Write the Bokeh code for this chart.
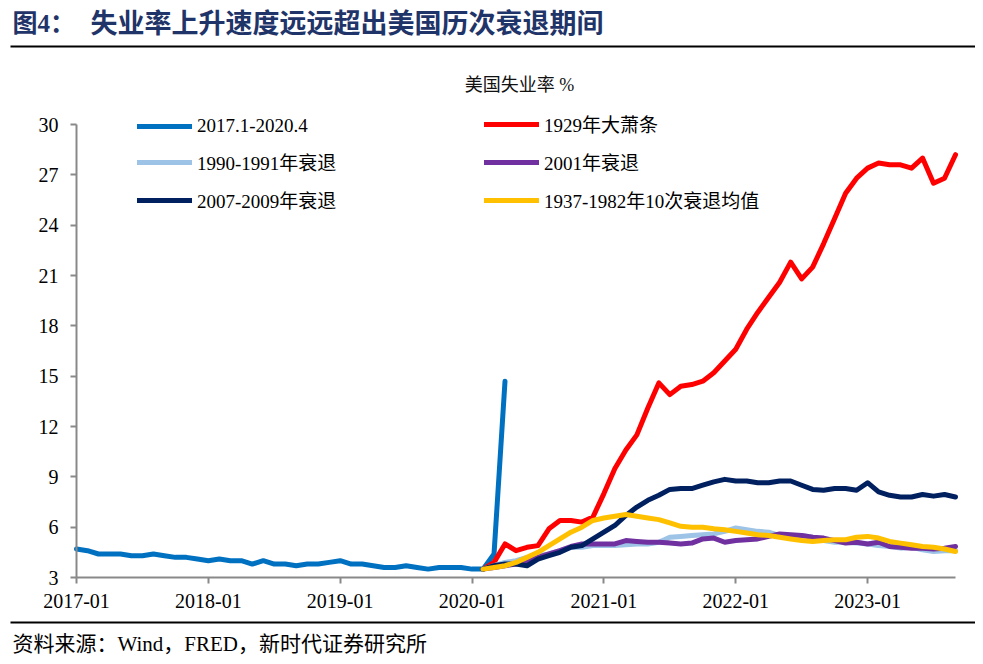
import pandas as pd
from bokeh.plotting import figure
from bokeh.models import (Range1d, FixedTicker, Legend, LegendItem, Label, BoxAnnotation,
                          LinearAxis)
from bokeh.embed import file_html
from bokeh.resources import INLINE

# ---------------- data ----------------
months = pd.period_range("2017-01", "2023-09", freq="M").strftime("%Y-%m").tolist()

start_2017 = "2017-01"
start_recession = "2020-02"

us_2017_2020 = [4.7, 4.6, 4.4, 4.4, 4.4, 4.3, 4.3, 4.4, 4.3, 4.2, 4.2, 4.1,
                4.0, 4.1, 4.0, 4.0, 3.8, 4.0, 3.8, 3.8, 3.7, 3.8, 3.8, 3.9,
                4.0, 3.8, 3.8, 3.7, 3.6, 3.6, 3.7, 3.6, 3.5, 3.6, 3.6, 3.6,
                3.5, 3.5, 4.4, 14.7]

depression_1929 = [3.5, 3.9, 5.0, 4.6, 4.8, 4.9, 5.9, 6.4, 6.4, 6.3,
                   6.6, 8.0, 9.5, 10.6, 11.5, 13.1, 14.6, 13.9, 14.4, 14.5,
                   14.7, 15.2, 15.9, 16.6, 17.8, 18.8, 19.7, 20.6, 21.8, 20.8,
                   21.5, 22.9, 24.4, 25.9, 26.8, 27.4, 27.7, 27.6, 27.6, 27.4,
                   28.0, 26.5, 26.8, 28.2]

rec_1990 = [3.5, 3.7, 3.9, 4.0, 4.2, 4.3, 4.4, 4.6, 4.8, 4.8,
            4.9, 4.9, 4.9, 4.95, 5.0, 5.0, 5.1, 5.4, 5.45, 5.5,
            5.55, 5.6, 5.75, 5.95, 5.85, 5.75, 5.7, 5.5, 5.5, 5.5,
            5.4, 5.2, 5.1, 5.1, 5.05, 5.0, 4.9, 4.85, 4.75, 4.8,
            4.65, 4.55, 4.6, 4.6]

rec_2001 = [3.5, 3.6, 3.7, 3.8, 4.0, 4.2, 4.4, 4.6, 4.85, 5.0,
            5.0, 5.0, 5.0, 5.2, 5.15, 5.1, 5.1, 5.05, 5.0, 5.05,
            5.3, 5.35, 5.1, 5.2, 5.25, 5.3, 5.45, 5.6, 5.55, 5.5,
            5.4, 5.35, 5.2, 5.05, 5.1, 5.0, 5.1, 4.85, 4.8, 4.75,
            4.75, 4.7, 4.75, 4.85]

rec_2007 = [3.5, 3.7, 3.8, 3.8, 3.7, 4.1, 4.3, 4.5, 4.8, 4.9,
            5.3, 5.7, 6.1, 6.7, 7.2, 7.6, 7.9, 8.25, 8.3, 8.3,
            8.5, 8.7, 8.85, 8.75, 8.75, 8.65, 8.65, 8.75, 8.75, 8.5,
            8.25, 8.2, 8.3, 8.3, 8.2, 8.65, 8.1, 7.9, 7.8, 7.8,
            7.95, 7.85, 7.95, 7.8]

avg_1937_1982 = [3.5, 3.6, 3.7, 3.9, 4.2, 4.5, 4.9, 5.3, 5.7, 6.0,
                 6.4, 6.55, 6.65, 6.75, 6.65, 6.55, 6.45, 6.25, 6.05, 6.0,
                 6.0, 5.9, 5.85, 5.75, 5.65, 5.55, 5.5, 5.4, 5.3, 5.2,
                 5.15, 5.2, 5.25, 5.25, 5.4, 5.45, 5.35, 5.15, 5.05, 4.95,
                 4.85, 4.8, 4.7, 4.55]

y_ticks = [3, 6, 9, 12, 15, 18, 21, 24, 27, 30]

series = [
    ("2017.1-2020.4", us_2017_2020, start_2017, "#0070C0"),
    ("1929年大萧条", depression_1929, start_recession, "#FF0000"),
    ("1990-1991年衰退", rec_1990, start_recession, "#9DC3E6"),
    ("2001年衰退", rec_2001, start_recession, "#7030A0"),
    ("2007-2009年衰退", rec_2007, start_recession, "#002060"),
    ("1937-1982年10次衰退均值", avg_1937_1982, start_recession, "#FFC000"),
]

title_text = "失业率上升速度远远超出美国历次衰退期间"
fig_no = "图4："
subtitle = "美国失业率 %"
source = "资料来源：Wind，FRED，新时代证券研究所"

# ---------------- layout / styling ----------------
FONT = "'Liberation Serif', 'Noto Sans CJK SC'"
TITLE_COLOR = "#1F3468"
AXIS_COLOR = "#898989"
W, H = 975, 656
# pixel box of the chart area on the canvas
AX_L, AX_R, AX_T, AX_B = 76, 955, 124, 577

n_last = len(months) - 1
y_lo, y_hi = y_ticks[0], y_ticks[-1]
kx = (AX_R - AX_L) / n_last
ky = (AX_B - AX_T) / (y_hi - y_lo)
x_range = Range1d(-AX_L / kx, n_last + (W - AX_R) / kx)
y_range = Range1d(y_lo - (H - AX_B) / ky, y_hi + AX_T / ky)

p = figure(width=W, height=H, x_range=x_range, y_range=y_range,
           x_axis_type=None, y_axis_type=None,
           toolbar_location=None, output_backend="svg",
           min_border=0, outline_line_color=None)

renderers = {}
for name, vals, start, color in series:
    i0 = months.index(start)
    xs = list(range(i0, i0 + len(vals)))
    renderers[name] = p.line(xs, vals, line_color=color, line_width=5,
                             line_join="round", line_cap="round")

tick_idx = [i for i, m in enumerate(months) if m.endswith("-01")]
xaxis = LinearAxis(fixed_location=y_lo, bounds=(0, n_last),
                   ticker=FixedTicker(ticks=tick_idx),
                   major_label_overrides={i: months[i] for i in tick_idx})
yaxis = LinearAxis(fixed_location=0, bounds=(y_lo, y_hi), ticker=FixedTicker(ticks=y_ticks))
for ax in (xaxis, yaxis):
    ax.axis_line_color = AXIS_COLOR
    ax.axis_line_width = 2
    ax.major_tick_line_color = AXIS_COLOR
    ax.major_tick_line_width = 2
    ax.major_tick_in = 0
    ax.major_tick_out = 6
    ax.minor_tick_line_color = None
    ax.major_label_text_font = FONT
    ax.major_label_text_font_size = "20px"
    ax.major_label_text_color = "black"
xaxis.major_label_standoff = 10
yaxis.major_label_standoff = 12
p.add_layout(xaxis, "below")
p.add_layout(yaxis, "left")

# helpers: canvas pixel (from top-left) -> screen units of the frame (from bottom-left)
def fx(px):
    return px

def fy(py):
    return H - py

# legends (two columns)
LEG_SPACING, LEG_ROW = 11, 27
leg_h = 3 * LEG_ROW + 2 * LEG_SPACING
leg_top = 110

def make_legend(names, x):
    return Legend(items=[LegendItem(label=n, renderers=[renderers[n]]) for n in names],
                  location=(x, H - leg_top - leg_h), orientation="vertical",
                  glyph_width=55, glyph_height=22, label_height=22, label_standoff=5,
                  spacing=LEG_SPACING, padding=0, margin=0,
                  border_line_color=None, background_fill_alpha=0,
                  label_text_font=FONT, label_text_font_size="19px", label_text_color="black")

p.add_layout(make_legend([series[0][0], series[2][0], series[4][0]], 137))
p.add_layout(make_legend([series[1][0], series[3][0], series[5][0]], 484))

# header
p.add_layout(Label(x=fx(12), y=fy(23), x_units="screen", y_units="screen", text=fig_no,
                   text_font=FONT, text_font_size="25px", text_font_style="bold",
                   text_color=TITLE_COLOR, text_baseline="middle"))
p.add_layout(Label(x=fx(90), y=fy(23), x_units="screen", y_units="screen", text=title_text,
                   text_font=FONT, text_font_size="27px", text_font_style="bold",
                   text_color=TITLE_COLOR, text_baseline="middle"))
p.add_layout(BoxAnnotation(left=fx(10), right=fx(W), top=fy(45), bottom=fy(47),
                           left_units="screen", right_units="screen",
                           top_units="screen", bottom_units="screen",
                           fill_color="black", fill_alpha=1, line_color=None))
p.add_layout(Label(x=fx(519), y=fy(84), x_units="screen", y_units="screen", text=subtitle,
                   text_font=FONT, text_font_size="18px", text_color="#111111",
                   text_baseline="middle", text_align="center"))

# footer
p.add_layout(BoxAnnotation(left=fx(10), right=fx(W), top=fy(621), bottom=fy(623),
                           left_units="screen", right_units="screen",
                           top_units="screen", bottom_units="screen",
                           fill_color="black", fill_alpha=1, line_color=None))
p.add_layout(Label(x=fx(12), y=fy(643), x_units="screen", y_units="screen", text=source,
                   text_font=FONT, text_font_size="21px", text_color="black",
                   text_baseline="middle"))

open("out.html", "w").write(file_html(p, INLINE))
